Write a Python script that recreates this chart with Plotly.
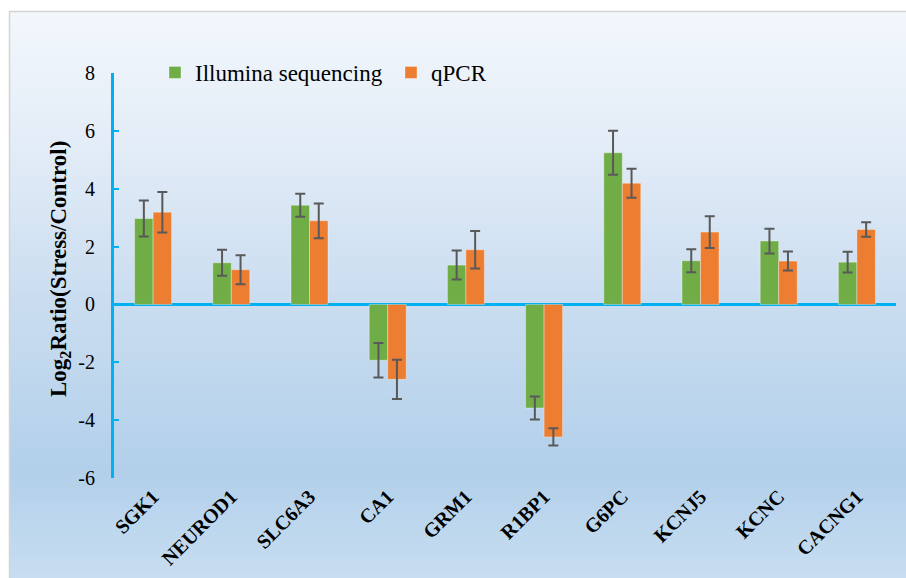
import plotly.graph_objects as go

# Gene expression: log2 ratio (stress / control) by two methods
genes = ["SGK1", "NEUROD1", "SLC6A3", "CA1", "GRM1", "R1BP1", "G6PC", "KCNJ5", "KCNC", "CACNG1"]
illumina = [2.97, 1.44, 3.43, -1.93, 1.36, -3.58, 5.24, 1.51, 2.19, 1.46]
illumina_err = [0.62, 0.45, 0.40, 0.60, 0.50, 0.40, 0.76, 0.40, 0.43, 0.36]
qpcr = [3.19, 1.20, 2.89, -2.59, 1.89, -4.58, 4.19, 2.50, 1.50, 2.59]
qpcr_err = [0.70, 0.50, 0.60, 0.68, 0.65, 0.30, 0.50, 0.55, 0.33, 0.25]
y_ticks = [-6, -4, -2, 0, 2, 4, 6, 8]
y_ticktext = [str(v) for v in y_ticks]
y_title = "Log<sub>2</sub>Ratio(Stress/Control)"

SERIF = "Liberation Serif"

W, H = 906, 578
ML, MR, MT, MB = 114, 10, 73, 100
PW, PH = W - ML - MR, H - MT - MB

def px_x(p):
    return (p - ML) / PW

def px_y(p):
    return (H - MB - p) / PH

# vertical background gradient (pixel y, rgb)
stops = [(11, (243, 247, 252)), (150, (226, 236, 247)), (300, (202, 221, 240)),
         (470, (178, 208, 234)), (578, (199, 221, 241))]

def grad(y):
    for (y0, c0), (y1, c1) in zip(stops, stops[1:]):
        if y0 <= y <= y1:
            t = (y - y0) / (y1 - y0)
            return tuple(round(a + (b - a) * t) for a, b in zip(c0, c1))
    return stops[-1][1]

shapes = []
step = 4
y = 11
while y < H:
    c = grad(y + step / 2)
    shapes.append(dict(type="rect", xref="paper", yref="paper", layer="below",
                       x0=px_x(9), x1=px_x(W + 2), y0=px_y(min(y + step + 0.5, H + 2)), y1=px_y(y),
                       line=dict(width=0), fillcolor="rgb(%d,%d,%d)" % c))
    y += step
shapes.append(dict(type="rect", xref="paper", yref="paper", layer="below",
                   x0=px_x(9.5), x1=px_x(W + 5), y0=px_y(H + 5), y1=px_y(11.5),
                   line=dict(color="#d4d4d4", width=1.5), fillcolor="rgba(0,0,0,0)"))

err_style = dict(type="data", color="#595959", thickness=2, width=5)
bar_line = dict(color="rgba(255,255,255,0.35)", width=1)

fig = go.Figure()
fig.add_trace(go.Bar(x=genes, y=illumina, name="Illumina sequencing",
                     marker=dict(color="#70ad47", line=bar_line),
                     error_y=dict(array=illumina_err, **err_style)))
fig.add_trace(go.Bar(x=genes, y=qpcr, name="qPCR",
                     marker=dict(color="#ed7d31", line=bar_line),
                     error_y=dict(array=qpcr_err, **err_style)))

fig.update_layout(
    width=W, height=H,
    margin=dict(l=ML, r=MR, t=MT, b=MB, autoexpand=False),
    paper_bgcolor="white", plot_bgcolor="rgba(0,0,0,0)",
    barmode="group", bargap=0.527, bargroupgap=0,
    font=dict(family=SERIF, color="black"),
    shapes=shapes,
    legend=dict(orientation="h", x=px_x(155), y=px_y(51), xanchor="left", yanchor="top",
                font=dict(size=23, family=SERIF, color="black"),
                bgcolor="rgba(0,0,0,0)", entrywidth=191, entrywidthmode="pixels",
                itemclick=False),
    showlegend=True,
)
# rotated y-axis title
fig.add_annotation(text=y_title, xref="paper", yref="paper", x=px_x(60), y=px_y(269),
                   xanchor="center", yanchor="middle", textangle=-90, showarrow=False,
                   font=dict(size=23, family=SERIF, color="black", weight="bold"))
fig.update_xaxes(
    range=[-0.5, 9.5], showgrid=False, showline=False, zeroline=False, ticks="",
    automargin=False,
    tickangle=-45, tickfont=dict(size=20, family=SERIF, color="black", weight="bold"),
    ticklabelstandoff=2,
)
fig.update_yaxes(
    range=[-6, 8], tickvals=y_ticks, ticktext=y_ticktext, showgrid=False, automargin=False,
    showline=True, linecolor="#00b0f0", linewidth=3,
    ticks="inside", ticklen=5, tickwidth=2, tickcolor="#00b0f0",
    zeroline=True, zerolinecolor="#00b0f0", zerolinewidth=3,
    tickfont=dict(size=20, family=SERIF, color="black"),
    ticklabelstandoff=12,
)

fig.write_html("out.html")
